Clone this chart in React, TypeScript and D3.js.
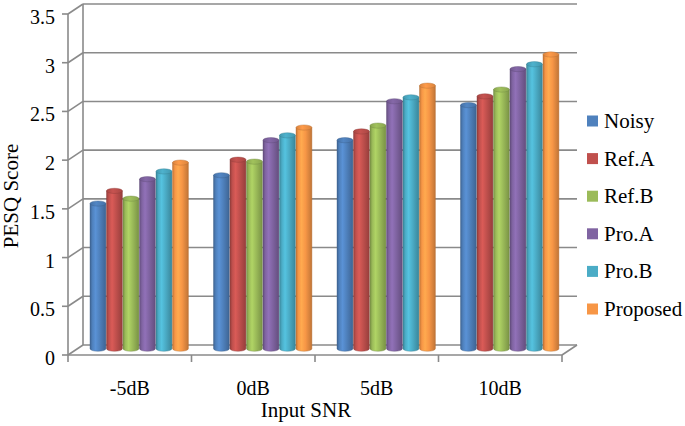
import React from "react";
import * as d3 from "d3";

const categories = ["-5dB", "0dB", "5dB", "10dB"];
const seriesNames = ["Noisy", "Ref.A", "Ref.B", "Pro.A", "Pro.B", "Proposed"];
const seriesColors = ["#4F81BD", "#C0504D", "#9BBB59", "#8064A2", "#4BACC6", "#F79646"];
const noisy = [1.49, 1.78, 2.14, 2.5];
const refA = [1.62, 1.94, 2.23, 2.59];
const refB = [1.54, 1.92, 2.29, 2.66];
const proA = [1.74, 2.14, 2.54, 2.87];
const proB = [1.82, 2.19, 2.58, 2.92];
const proposed = [1.91, 2.27, 2.7, 3.02];
const seriesValues = [noisy, refA, refB, proA, proB, proposed];
const yTicks = [0, 0.5, 1, 1.5, 2, 2.5, 3, 3.5];

const W = 685, H = 426;
const FONT = '"Liberation Serif", "Times New Roman", "DejaVu Serif", serif';
const GRID = "#8a8a8a";
const txt = { fontFamily: FONT, fill: "#000" } as React.CSSProperties;

export default function App() {
  const x0 = 68, x1 = 562;
  const y = d3.scaleLinear().domain([0, 3.5]).range([355, 14]);
  const DX = 15, DY = -10;
  const f = 0.63;
  const xCat = d3.scaleBand<string>().domain(categories).range([x0, x1]).paddingInner(0).paddingOuter(0);
  const groupW = 99;
  const xSer = d3.scaleBand<string>().domain(seriesNames).range([0, groupW]).padding(0);
  const bw = xSer.bandwidth();
  const ry = 2.6;

  const grads = seriesColors.map((c, i) => {
    const base = d3.color(c)!;
    return {
      id: `g${i}`,
      topId: `t${i}`,
      dark: base.darker(0.7).formatHex(),
      mid: base.formatHex(),
      light: base.brighter(0.35).formatHex(),
      edge: base.darker(0.9).formatHex(),
      top: base.darker(0.35).formatHex(),
      topLight: base.brighter(0.1).formatHex(),
    };
  });

  const bars: JSX.Element[] = [];
  categories.forEach((cat, ci) => {
    const gx = xCat(cat)! + xCat.bandwidth() / 2 - groupW / 2 + DX * f;
    seriesNames.forEach((s, si) => {
      const v = seriesValues[si][ci];
      const left = gx + xSer(s)!;
      const cx = left + bw / 2;
      const rx = bw / 2 - 0.3;
      const yb = y(0) + DY * f;
      const yt = y(v) + DY * f;
      const g = grads[si];
      const body = `M${cx - rx},${yt} L${cx - rx},${yb} A${rx},${ry} 0 0 0 ${cx + rx},${yb} L${cx + rx},${yt} Z`;
      bars.push(
        <g key={`${ci}-${si}`}>
          <path d={body} fill={`url(#${g.id})`} stroke={g.edge} strokeWidth={0.4} />
          <ellipse cx={cx} cy={yt} rx={rx} ry={ry} fill={`url(#${g.topId})`} stroke={g.edge} strokeWidth={0.4} />
        </g>
      );
    });
  });

  return (
    <svg width={W} height={H} style={{ position: "absolute", left: 0, top: 0 }}>
      <defs>
        {grads.map((g) => (
          <linearGradient key={g.id} id={g.id} x1="0" x2="1" y1="0" y2="0">
            <stop offset="0%" stopColor={g.dark} />
            <stop offset="15%" stopColor={g.mid} />
            <stop offset="35%" stopColor={g.light} />
            <stop offset="60%" stopColor={g.mid} />
            <stop offset="100%" stopColor={g.dark} />
          </linearGradient>
        ))}
        {grads.map((g) => (
          <linearGradient key={g.topId} id={g.topId} x1="0" x2="1" y1="0" y2="0">
            <stop offset="0%" stopColor={g.top} />
            <stop offset="40%" stopColor={g.topLight} />
            <stop offset="100%" stopColor={g.top} />
          </linearGradient>
        ))}
      </defs>
      <rect width={W} height={H} fill="#fff" />
      {yTicks.map((t) => (
        <line key={`bg${t}`} x1={x0 + DX} x2={x1 + DX} y1={y(t) + DY} y2={y(t) + DY} stroke={GRID} strokeWidth={1.6} />
      ))}
      {yTicks.map((t) => (
        <line key={`lw${t}`} x1={x0} x2={x0 + DX} y1={y(t)} y2={y(t) + DY} stroke={GRID} strokeWidth={1.6} />
      ))}
      <line x1={x0 + DX} x2={x0 + DX} y1={y(3.5) + DY} y2={y(0) + DY} stroke={GRID} strokeWidth={1.6} />
      <line x1={x0} x2={x0} y1={y(3.5)} y2={y(0)} stroke={GRID} strokeWidth={1.6} />
      <line x1={x0} x2={x1} y1={y(0)} y2={y(0)} stroke={GRID} strokeWidth={1.6} />
      <line x1={x1} x2={x1 + DX} y1={y(0)} y2={y(0) + DY} stroke={GRID} strokeWidth={1.6} />
      {yTicks.map((t) => (
        <g key={`yt${t}`}>
          <line x1={x0 - 6} x2={x0} y1={y(t)} y2={y(t)} stroke={GRID} strokeWidth={1.6} />
          <text x={55} y={y(t) + 10} textAnchor="end" style={{ ...txt, fontSize: 20 }}>
            {t}
          </text>
        </g>
      ))}
      {[...categories.map((c) => xCat(c)!), x1].map((xv, i) => (
        <line key={`xt${i}`} x1={xv} x2={xv} y1={y(0)} y2={y(0) + 7} stroke={GRID} strokeWidth={1.6} />
      ))}
      {bars}
      {categories.map((c) => (
        <text key={c} x={xCat(c)! + xCat.bandwidth() / 2} y={395} textAnchor="middle" style={{ ...txt, fontSize: 20 }}>
          {c}
        </text>
      ))}
      <text x={306} y={417} textAnchor="middle" style={{ ...txt, fontSize: 21 }}>
        Input SNR
      </text>
      <text transform={`translate(18,196) rotate(-90)`} textAnchor="middle" style={{ ...txt, fontSize: 21 }}>
        PESQ Score
      </text>
      {seriesNames.map((s, i) => {
        const cy = 121 + i * 37.6;
        return (
          <g key={s}>
            <rect x={587} y={cy - 5.5} width={11} height={11} fill={seriesColors[i]} />
            <text x={604} y={cy + 7} style={{ ...txt, fontSize: 21 }}>
              {s}
            </text>
          </g>
        );
      })}
    </svg>
  );
}
